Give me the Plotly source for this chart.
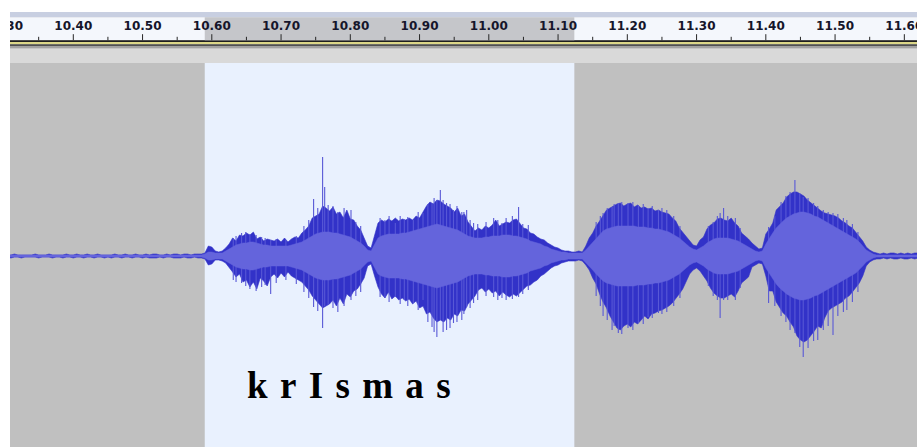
import numpy as np
import plotly.graph_objects as go

# ---- waveform envelope, one column every 5 ms starting at 10.305 s ----
t0 = 10.305
dt = 0.005

# upper peak of each column (sample counts above the centre line)
peak_hi = [
    1, 1, 2, 1, 1, 1, 1, 1, 2, 1,
    1, 1, 2, 1, 1, 1, 1, 2, 1, 1,
    2, 1, 1, 2, 1, 1, 2, 1, 1, 1,
    1, 2, 1, 1, 2, 1, 1, 2, 1, 1,
    2, 1, 2, 2, 1, 1, 2, 1, 2, 2,
    1, 2, 2, 1, 2, 2, 2,
    3, 10, 9, 5, 4, 5, 8, 12, 18, 15,
    21, 20, 23, 21, 24, 17, 19, 15, 17, 16,
    15, 17, 14, 18, 14, 17, 19, 18, 23, 26,
    30, 38, 40, 42, 50, 48, 45, 49, 42, 44,
    38, 46, 37, 36, 30, 26, 18, 10, 8, 22,
    33, 36, 34, 37, 35, 38, 35, 37, 36, 38,
    36, 40, 38, 44, 50, 54, 52, 56, 55, 52,
    50, 48, 44, 48, 40, 42, 34, 30, 25, 28,
    26, 30, 28, 31, 36, 30, 32, 34, 33, 36,
    37, 33, 28, 27, 23, 22, 19, 17, 16, 13,
    11, 9, 8, 6, 5, 5, 4, 4, 5, 4,
    10, 18, 23, 30, 35, 40, 46, 48, 50, 52,
    53, 50, 52, 53, 49, 51, 48, 49, 47, 48,
    45, 46, 44, 43, 42, 38, 35, 28, 24, 20,
    15, 11, 10, 16, 19, 27, 31, 33, 37, 38,
    36, 35, 38, 33, 30, 23, 20, 17, 13, 10,
    7, 8, 22, 27, 33, 46, 50, 53, 59, 62,
    64, 64, 62, 60, 56, 53, 50, 48, 45, 43,
    42, 41, 40, 38, 35, 33, 30, 28, 24, 20,
    15, 9, 6, 4,
    3, 2, 3, 2, 3, 3, 2, 3, 2, 3, 2, 3, 3,
]

# lower peak of each column (sample counts below the centre line)
peak_lo = [
    1, 2, 1, 1, 2, 1, 1, 1, 1, 2,
    1, 1, 1, 2, 1, 1, 2, 1, 1, 2,
    1, 1, 2, 1, 1, 2, 1, 1, 2, 1,
    2, 1, 1, 2, 1, 1, 2, 1, 1, 2,
    1, 2, 2, 2, 1, 2, 1, 1, 2, 2,
    2, 1, 2, 2, 1, 2, 2,
    3, 9, 8, 4, 4, 5, 7, 12, 16, 21,
    18, 26, 24, 31, 26, 33, 22, 25, 30, 21,
    18, 22, 17, 21, 16, 20, 22, 24, 26, 30,
    34, 40, 44, 48, 52, 50, 48, 44, 50, 42,
    48, 38, 41, 35, 33, 28, 22, 10, 8, 20,
    31, 38, 42, 36, 43, 40, 44, 42, 45, 43,
    48, 45, 52, 50, 58, 56, 62, 66, 64, 66,
    62, 64, 58, 60, 54, 55, 48, 44, 40, 34,
    32, 36, 33, 37, 35, 40, 36, 39, 41, 38,
    40, 36, 33, 30, 29, 26, 24, 20, 18, 15,
    12, 10, 9, 7, 6, 5, 5, 5, 4, 5,
    9, 14, 22, 28, 38, 46, 52, 60, 66, 72,
    74, 70, 68, 71, 66, 68, 64, 60, 63, 58,
    57, 55, 54, 52, 50, 47, 43, 38, 33, 26,
    18, 14, 12, 15, 20, 25, 32, 37, 40, 42,
    42, 40, 38, 41, 35, 27, 24, 21, 11, 9,
    7, 8, 20, 35, 35, 46, 52, 57, 60, 66,
    71, 80, 84, 86, 84, 80, 75, 70, 72, 62,
    55, 52, 50, 48, 46, 42, 40, 36, 32, 27,
    20, 10, 6, 4,
    3, 3, 2, 3, 2, 3, 3, 2, 3, 3, 2, 3, 2,
]

# RMS level of each column (drawn symmetric about the centre line)
rms = [
    1, 1, 1, 1, 1, 1, 1, 1, 1, 1,
    1, 1, 1, 1, 1, 1, 1, 1, 1, 1,
    1, 1, 1, 1, 1, 1, 1, 1, 1, 1,
    1, 1, 1, 1, 1, 1, 1, 1, 1, 1,
    1, 1, 1, 1, 1, 1, 1, 1, 1, 1,
    1, 1, 1, 1, 1, 1, 1,
    2, 4, 4, 3, 3, 3, 5, 7, 9, 11,
    12, 13, 13, 14, 14, 13, 12, 11, 11, 10,
    10, 10, 10, 10, 10, 11, 12, 13, 14, 16,
    18, 20, 22, 23, 24, 24, 24, 23, 23, 22,
    21, 20, 19, 17, 15, 13, 10, 6, 5, 12,
    18, 20, 21, 22, 22, 22, 22, 23, 23, 24,
    25, 26, 27, 28, 29, 30, 31, 32, 31, 30,
    29, 28, 27, 26, 24, 22, 20, 19, 18, 18,
    18, 19, 19, 20, 20, 20, 21, 21, 21, 20,
    20, 19, 18, 17, 15, 14, 13, 12, 10, 9,
    7, 6, 5, 4, 4, 3, 3, 3, 3, 3,
    6, 10, 14, 18, 22, 25, 27, 28, 29, 30,
    30, 30, 30, 30, 30, 29, 29, 29, 28, 28,
    27, 27, 26, 25, 24, 22, 20, 18, 15, 12,
    9, 7, 6, 8, 10, 13, 15, 17, 18, 18,
    18, 18, 17, 16, 15, 13, 11, 9, 7, 5,
    4, 5, 12, 18, 23, 28, 32, 35, 38, 40,
    42, 43, 44, 44, 43, 42, 40, 39, 37, 35,
    33, 31, 29, 27, 25, 23, 21, 19, 17, 14,
    10, 6, 4, 2,
    1, 1, 1, 1, 1, 1, 1, 1, 1, 1, 1, 1, 1,
]

# isolated single-sample peaks that stick out of the envelope
spike_t = [10.631, 10.643, 10.672, 10.685, 10.747, 10.760, 10.763, 10.768,
           10.801, 10.843, 10.850, 10.865, 10.878, 10.891, 10.905, 10.918,
           10.925, 10.930, 10.939, 10.949, 10.961, 10.968, 10.978, 11.007,
           11.019, 11.043, 11.057, 11.165, 11.178, 11.187, 11.201, 11.216,
           11.230, 11.245, 11.334, 11.339, 11.404, 11.442, 11.449, 11.454,
           11.469, 11.483, 11.497, 11.517,
           10.635, 10.649, 10.655, 10.664, 10.677, 10.693, 10.707, 10.722,
           10.733, 10.740, 10.753, 10.775, 10.782, 10.791, 10.808, 10.815,
           10.856, 10.872, 10.883, 10.898, 10.912, 10.921, 10.934, 10.944,
           10.954, 10.964, 10.973, 10.984, 10.996, 11.013, 11.025, 11.034,
           11.049, 11.155, 11.161, 11.171, 11.181, 11.192, 11.208, 11.223,
           11.236, 11.250, 11.257, 11.267, 11.276, 11.317, 11.324, 11.330,
           11.345, 11.356, 11.363, 11.413, 11.422, 11.429, 11.435, 11.461,
           11.475, 11.490, 11.504, 11.512, 11.525, 11.533]
spike_hi = [18, 23, 19, 16, 57, 99, 69, 51,
            46, 38, 36, 33, 36, 36, 43, 53,
            56, 66, 53, 46, 44, 46, 33, 38,
            33, 49, 31, 43, 49, 53, 53, 51,
            48, 46, 43, 48, 29, 76, 63, 59,
            53, 46, 43, 36,
            20, 24, 22, 21, 18, 17, 16, 20,
            30, 36, 48, 50, 44, 48, 34, 30,
            40, 40, 39, 44, 52, 58, 56, 52,
            50, 44, 36, 32, 34, 36, 38, 40,
            32, 34, 40, 48, 52, 54, 54, 52,
            50, 48, 46, 40, 30, 30, 34, 40,
            40, 38, 28, 40, 54, 60, 64, 58,
            50, 44, 42, 38, 32, 24]
spike_lo = [24, 27, 31, 38, 51, 72, 50, 49,
            44, 41, 42, 41, 44, 47, 44, 71,
            81, 64, 74, 67, 64, 51, 47, 41,
            42, 41, 34, 60, 74, 77, 72, 67,
            61, 57, 62, 44, 47, 77, 91, 101,
            85, 74, 79, 54,
            26, 30, 33, 35, 29, 27, 24, 28,
            36, 42, 55, 52, 56, 50, 40, 36,
            46, 48, 50, 54, 66, 76, 76, 72,
            66, 58, 52, 44, 40, 44, 44, 43,
            38, 40, 50, 64, 70, 78, 74, 68,
            62, 58, 56, 50, 42, 30, 40, 44,
            44, 44, 32, 50, 60, 66, 74, 92,
            84, 70, 60, 56, 46, 36]

# time ruler
major_ticks = [10.30, 10.40, 10.50, 10.60, 10.70, 10.80, 10.90,
               11.00, 11.10, 11.20, 11.30, 11.40, 11.50, 11.60]
tick_labels = ["10.30", "10.40", "10.50", "10.60", "10.70", "10.80", "10.90",
               "11.00", "11.10", "11.20", "11.30", "11.40", "11.50", "11.60"]
minor_ticks = [10.35, 10.45, 10.55, 10.65, 10.75, 10.85, 10.95,
               11.05, 11.15, 11.25, 11.35, 11.45, 11.55]

view_start, view_end = 10.3086, 11.6183
sel_start, sel_end = 10.5898, 11.1235

transcription = "k\u2004r\u2004I\u2004s\u2004m\u2004a\u2004s"

# ---------------------------------------------------------------------------
n = len(peak_hi)
assert len(peak_lo) == n and len(rms) == n, (len(peak_hi), len(peak_lo), len(rms))
assert len(spike_t) == len(spike_hi) == len(spike_lo)
t = list(np.round(t0 + dt * np.arange(n), 3))

DARK = "#3232c8"
LIGHT = "#6464dc"

fig = go.Figure()

# peak envelope
fig.add_trace(go.Scatter(
    x=t + t[::-1],
    y=peak_hi + [-v for v in peak_lo[::-1]],
    fill="toself", fillcolor=DARK, mode="lines",
    line=dict(color=DARK, width=0.6), hoverinfo="skip", showlegend=False,
))

# single-sample spikes
sx, sy = [], []
for ts, hi, lo in zip(spike_t, spike_hi, spike_lo):
    sx += [ts, ts, None]
    sy += [hi, -lo, None]
fig.add_trace(go.Scatter(
    x=sx, y=sy, mode="lines", line=dict(color="rgb(88,88,214)", width=1.1),
    hoverinfo="skip", showlegend=False,
))

# RMS band
fig.add_trace(go.Scatter(
    x=t + t[::-1],
    y=rms + [-v for v in rms[::-1]],
    fill="toself", fillcolor=LIGHT, mode="lines",
    line=dict(color=LIGHT, width=0.5), hoverinfo="skip", showlegend=False,
))

# ruler ticks
mx, my = [], []
for v in major_ticks:
    mx += [v, v, None]
    my += [34.2, 40.3, None]
for v in minor_ticks:
    mx += [v, v, None]
    my += [36.8, 40.3, None]
fig.add_trace(go.Scatter(
    x=mx, y=my, yaxis="y2", mode="lines",
    line=dict(color="#262626", width=1), hoverinfo="skip", showlegend=False,
))

# ruler labels
fig.add_trace(go.Scatter(
    x=major_ticks, y=[27.2] * len(major_ticks), yaxis="y2", mode="text",
    text=tick_labels, textposition="middle center", cliponaxis=True,
    textfont=dict(family="DejaVu Sans", size=12, color="#15152a", weight="bold"),
    hoverinfo="skip", showlegend=False,
))

# background bands of the ruler (y2 is measured in pixels from the top)
def band(y0, y1, color, xref="paper", x0=0, x1=1):
    return dict(type="rect", xref=xref, yref="y2", x0=x0, x1=x1, y0=y0, y1=y1,
                fillcolor=color, line=dict(width=0), layer="below")

shapes = [
    band(0, 12, "#ffffff"),
    band(12, 17.3, "#c8cfe1"),
    band(17.3, 40.3, "#f4f7fc"),
    band(17.3, 40.3, "#c5c6ca", xref="x", x0=sel_start, x1=sel_end),
    band(40.3, 42.0, "#1e1e1e"),
    band(42.0, 44.2, "#dcd788"),
    band(44.2, 46.0, "#505050"),
    band(46.0, 48.5, "#a2a2a2"),
    band(48.5, 63.0, "#d9d9d9"),
    # selected part of the track
    dict(type="rect", xref="x", yref="y domain", x0=sel_start, x1=sel_end,
         y0=0, y1=1, fillcolor="#e9f1fe", line=dict(width=0), layer="below"),
]

track_frac = 384 / 447

fig.update_layout(
    width=917, height=447,
    margin=dict(l=10, r=0, t=0, b=0, pad=0),
    paper_bgcolor="#ffffff",
    plot_bgcolor="#c0c0c0",
    showlegend=False,
    shapes=shapes,
    xaxis=dict(range=[view_start, view_end], showgrid=False, zeroline=False,
               showticklabels=False, ticks="", showline=False, fixedrange=True),
    yaxis=dict(domain=[0, track_frac], range=[-191, 193], showgrid=False,
               zeroline=False, showticklabels=False, ticks="", showline=False,
               fixedrange=True),
    yaxis2=dict(domain=[track_frac, 1], range=[63, 0], showgrid=False,
                zeroline=False, showticklabels=False, ticks="", showline=False,
                fixedrange=True, anchor="x"),
    annotations=[dict(
        text=transcription, xref="paper", yref="paper",
        x=(349 - 10) / 907, y=(447 - 385) / 447,
        xanchor="center", yanchor="middle", showarrow=False,
        font=dict(family="Liberation Serif", size=37, color="#000000",
                  weight="bold"),
    )],
)

fig.write_html("out.html")
